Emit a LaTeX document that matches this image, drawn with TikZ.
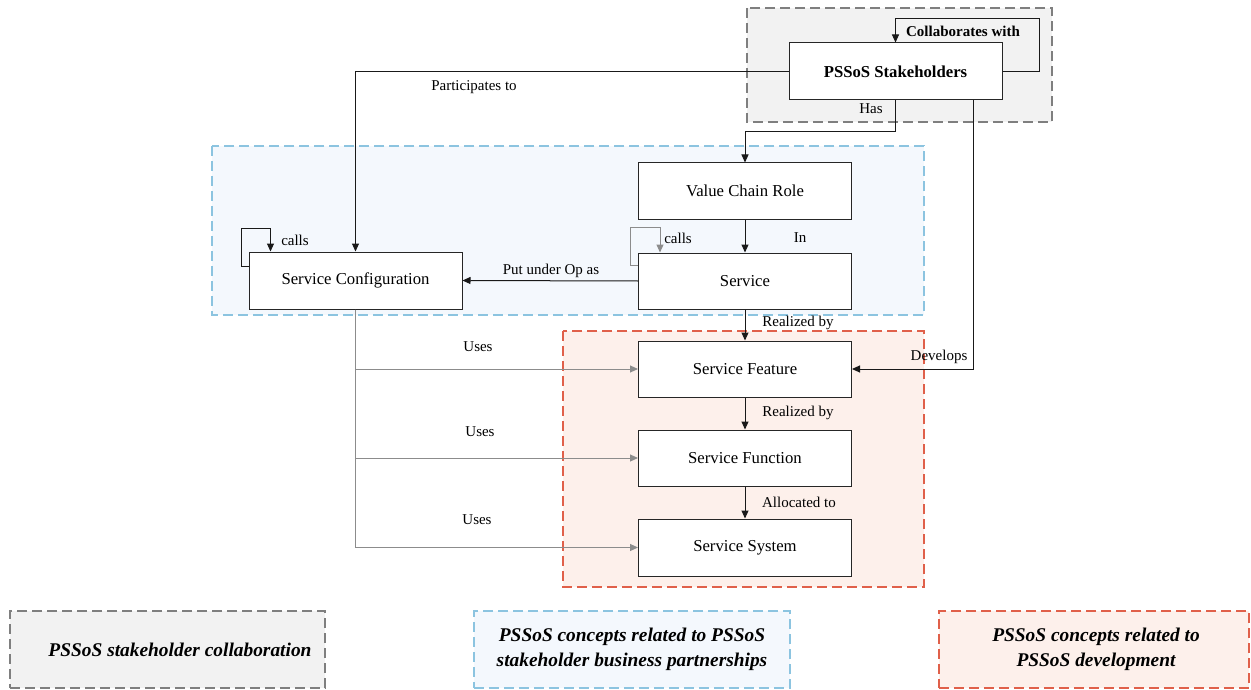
\documentclass[tikz,border=0pt]{standalone}
\usepackage{fontspec}
\setmainfont{Liberation Serif}
\usetikzlibrary{arrows.meta,calc}
\definecolor{grayfill}{HTML}{F2F2F2}
\definecolor{grayline}{HTML}{7F7F7F}
\definecolor{bluefill}{HTML}{F4F8FD}
\definecolor{blueline}{HTML}{8CC4E0}
\definecolor{redfill}{HTML}{FDF0EB}
\definecolor{redline}{HTML}{E0604A}
\definecolor{usegray}{HTML}{8C8C8C}
\begin{document}
\begin{tikzpicture}[x=1pt,y=-1pt,
 box/.style={draw=black!85,line width=1pt,fill=white,minimum width=213pt,minimum height=56pt,inner sep=0pt,font=\fontsize{16.7}{20}\selectfont},
 lbl/.style={font=\fontsize{15}{18}\selectfont,inner sep=0pt},
 arr/.style={draw=black!90,line width=1pt,-{Triangle[length=8pt,width=7pt]}},
 garr/.style={draw=usegray,line width=1pt,-{Triangle[length=8pt,width=7pt]}},
 region/.style={dash pattern=on 10pt off 5pt,line width=1.5pt},
 legbox/.style={region,minimum height=77pt,inner sep=0pt},
 legtext/.style={inner sep=0pt,align=center,font=\fontsize{19.4}{25}\selectfont\bfseries\itshape}
]
\useasboundingbox (0,0) rectangle (1251,690);

% regions
\draw[region,draw=grayline,fill=grayfill] (747,8) rectangle (1052,122);
\draw[region,draw=blueline,fill=bluefill] (212,146) rectangle (924,315);
\draw[region,draw=redline,fill=redfill] (563,331) rectangle (924,587);

% legend
\node[legbox,draw=grayline,fill=grayfill,minimum width=315pt] (lg1) at (167.5,649.5) {};
\node[legtext] (lt1) at (180,649.5) {PSSoS stakeholder collaboration};
\node[legbox,draw=blueline,fill=bluefill,minimum width=316pt] (lg2) at (632,649.5) {};
\node[legtext] (lt2) at (632,649.5) {PSSoS concepts related to PSSoS\\stakeholder business partnerships};
\node[legbox,draw=redline,fill=redfill,minimum width=310pt] (lg3) at (1094,649.5) {};
\node[legtext] (lt3) at (1096,649.5) {PSSoS concepts related to\\PSSoS development};

% boxes
\node[box,minimum height=57pt,font=\fontsize{16.7}{20}\selectfont\bfseries] (ps) at (895.5,71.5) {PSSoS Stakeholders};
\node[box] (vcr) at (745,191) {Value Chain Role};
\node[box] (svc) at (745,281) {Service};
\node[box,minimum height=57pt] (sc) at (355.5,280.5) {Service Configuration};
\node[box] (sf) at (745,369) {Service Feature};
\node[box] (sfn) at (745,458) {Service Function};
\node[box,minimum height=57pt] (ss) at (745,547.5) {Service System};

% connectors
\draw[arr] (ps.east) -| ++(37,-52.5) -| (ps.north);
\draw[arr] (ps.south) -- ++(0,31) -| (vcr.north);
\draw[arr] ($(ps.south)+(77.5,0)$) |- (sf.east);
\draw[arr] (ps.west) -| (sc.north);
\draw[arr] ($(sc.north west)+(0,15)$) -- ++(-7,0) |- ++(29,-38) -- ($(sc.north west)+(22,0)$);
\draw[garr] ($(svc.north west)+(0,13)$) -- ++(-8,0) |- ++(30,-38) -- ($(svc.north west)+(22,0)$);
\draw[arr] (vcr) -- (svc);
\draw[arr] (svc.west) -- (sc.east);
\draw[arr] (svc) -- (sf);
\draw[arr] (sf) -- (sfn);
\draw[arr] (sfn) -- (ss);
\draw[garr] (sc.south) |- (sf.west);
\draw[garr] (sc.south) |- (sfn.west);
\draw[garr] (sc.south) |- (ss.west);

% labels
\node[lbl,font=\fontsize{15}{18}\selectfont\bfseries] (lcol) at (963,31) {Collaborates with};
\node[lbl] (lhas) at (871,109) {Has};
\node[lbl] (lpar) at (474,87) {Participates to};
\node[lbl] (lc1) at (295,240) {calls};
\node[lbl] (lput) at (551,271) {Put under Op as};
\node[lbl] (lc2) at (678,238) {calls};
\node[lbl] (lin) at (800,238) {In};
\node[lbl] (lr1) at (798,323) {Realized by};
\node[lbl] (lr2) at (798,413) {Realized by};
\node[lbl] (lal) at (799,502) {Allocated to};
\node[lbl] (ldev) at (939,357) {Develops};
\node[lbl] (lu1) at (478,347) {Uses};
\node[lbl] (lu2) at (480,432) {Uses};
\node[lbl] (lu3) at (477,520) {Uses};
\end{tikzpicture}
\end{document}
